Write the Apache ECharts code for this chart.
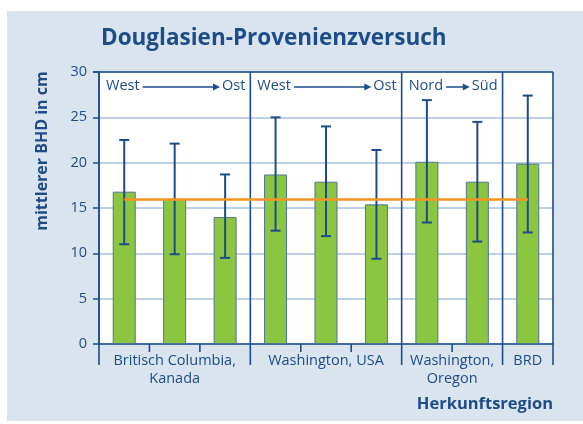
<!DOCTYPE html>
<html>
<head>
<meta charset="utf-8">
<script src="https://cdn.jsdelivr.net/npm/echarts@6/dist/echarts.min.js"></script>
<style>
  html, body { margin: 0; padding: 0; background: #fff; }
  #chart { width: 583px; height: 424px; }
</style>
</head>
<body>
<div id="chart"></div>
<script>
// provenances (not labelled in the figure)
const categories = ['BC 1', 'BC 2', 'BC 3', 'WA 1', 'WA 2', 'WA 3', 'WO 1', 'WO 2', 'BRD'];
const meanBHD = [16.8, 16.0, 14.0, 18.7, 17.9, 15.4, 20.1, 17.9, 19.9];
const lowBHD = [11.0, 9.9, 9.5, 12.5, 11.9, 9.4, 13.4, 11.3, 12.3];
const highBHD = [22.5, 22.1, 18.7, 25.0, 24.0, 21.4, 26.9, 24.5, 27.4];
const overallMean = 16;

const yMin = 0, yMax = 30, yStep = 5;

const groupNames = ['Britisch Columbia,\nKanada', 'Washington, USA', 'Washington,\nOregon', 'BRD'];
const groupStart = [0, 3, 6, 8];
const groupEnd = [3, 6, 8, 9];
const dirFrom = ['West', 'West', 'Nord', ''];
const dirTo = ['Ost', 'Ost', 'Süd', ''];

const FONT = '"Open Sans", "Noto Sans", sans-serif';
const DARK = '#1d4c8a';
const GRID = '#a8c2de';

const ctx = document.createElement('canvas').getContext('2d');
function textW(s, size) {
  ctx.font = size + 'px ' + '"Open Sans"';
  return ctx.measureText(s).width;
}

function boundaryX(api, b) {
  const w = api.size([1, 0])[0];
  const n = categories.length;
  if (b < n) return api.coord([b, 0])[0] - w / 2;
  return api.coord([n - 1, 0])[0] + w / 2;
}

const boundaries = [];
for (let b = 0; b <= categories.length; b++) boundaries.push([b, 0]);
const groupEdges = groupStart.concat([groupEnd[groupEnd.length - 1]]);

const chart = echarts.init(document.getElementById('chart'));

chart.setOption({
  animation: false,
  textStyle: { fontFamily: FONT },
  graphic: [
    {
      type: 'rect', z: -10,
      shape: { x: 7, y: 11, width: 576, height: 410 },
      style: { fill: '#d9e4ee' }
    },
    {
      type: 'text', right: 30, top: 396,
      style: { text: 'Herkunftsregion', fill: DARK, font: 'bold 16.5px ' + FONT }
    },
    {
      type: 'text', x: 42, y: 151, rotation: Math.PI / 2,
      style: {
        text: 'mittlerer BHD in cm', fill: DARK, font: 'bold 16px ' + FONT,
        align: 'center', verticalAlign: 'middle'
      }
    }
  ],
  title: {
    text: 'Douglasien-Provenienzversuch',
    left: 96, top: 22,
    textStyle: { color: DARK, fontSize: 22.5, fontWeight: 'bold', fontFamily: FONT }
  },
  grid: {
    left: 99, right: 30, top: 72, bottom: 80,
    show: true, backgroundColor: '#fff', borderWidth: 0
  },
  xAxis: {
    type: 'category',
    data: categories,
    axisLine: { show: true, lineStyle: { color: DARK, width: 1.5 } },
    axisTick: { show: false },
    axisLabel: { show: false },
    splitLine: { show: false }
  },
  yAxis: {
    type: 'value',
    min: yMin, max: yMax, interval: yStep,
    axisLine: { show: true, lineStyle: { color: DARK, width: 1.5 } },
    axisTick: { show: true, length: 6, lineStyle: { color: DARK, width: 1.5 } },
    axisLabel: { color: DARK, fontSize: 14.5, margin: 12, fontFamily: FONT },
    splitLine: { show: true, lineStyle: { color: GRID, width: 1.5 } }
  },
  series: [
    {
      type: 'bar',
      data: meanBHD,
      barWidth: 23,
      z: 2,
      itemStyle: { color: '#8cc540', borderColor: '#4f7596', borderWidth: 1 },
      markLine: {
        silent: true,
        symbol: 'none',
        label: { show: false },
        lineStyle: { color: '#f39422', width: 2.5, type: 'solid' },
        data: [[
          { coord: [categories[0], overallMean] },
          { coord: [categories[categories.length - 1], overallMean] }
        ]],
        z: 6
      }
    },
    {
      // error bars
      type: 'custom',
      z: 4,
      data: categories.map((c, i) => [i, lowBHD[i], highBHD[i]]),
      encode: { x: 0, y: [1, 2] },
      renderItem: function (params, api) {
        const lo = api.coord([api.value(0), api.value(1)]);
        const hi = api.coord([api.value(0), api.value(2)]);
        const cap = 5;
        const style = { stroke: DARK, lineWidth: 2 };
        return {
          type: 'group',
          children: [
            { type: 'line', shape: { x1: lo[0], y1: lo[1], x2: hi[0], y2: hi[1] }, style: style },
            { type: 'line', shape: { x1: lo[0] - cap, y1: lo[1], x2: lo[0] + cap, y2: lo[1] }, style: style },
            { type: 'line', shape: { x1: hi[0] - cap, y1: hi[1], x2: hi[0] + cap, y2: hi[1] }, style: style }
          ]
        };
      }
    },
    {
      // separators, ticks and frame
      type: 'custom',
      z: 5,
      silent: true,
      data: boundaries,
      encode: { x: 0, y: 1 },
      renderItem: function (params, api) {
        const b = api.value(0);
        const x = boundaryX(api, b);
        const yTop = api.coord([0, yMax])[1];
        const yBot = api.coord([0, yMin])[1];
        const isGroup = groupEdges.indexOf(b) >= 0;
        const style = { stroke: DARK, lineWidth: 1.6 };
        const children = [];
        if (isGroup) {
          children.push({ type: 'line', shape: { x1: x, y1: yTop, x2: x, y2: yBot + 21 }, style: style });
        } else {
          children.push({ type: 'line', shape: { x1: x, y1: yBot, x2: x, y2: yBot + 8 }, style: style });
        }
        if (b === 0) {
          const xr = boundaryX(api, categories.length);
          children.push({ type: 'line', shape: { x1: x - 6, y1: yTop, x2: xr, y2: yTop }, style: style });
        }
        return { type: 'group', children: children };
      }
    },
    {
      // direction notes and region labels
      type: 'custom',
      z: 5,
      silent: true,
      data: groupNames.map((g, i) => [i, 0]),
      encode: { x: 0, y: 1 },
      renderItem: function (params, api) {
        const gi = params.dataIndex;
        const x0 = boundaryX(api, groupStart[gi]);
        const x1 = boundaryX(api, groupEnd[gi]);
        const yTop = api.coord([0, yMax])[1];
        const yBot = api.coord([0, yMin])[1];
        const children = [];
        const fs = 14.5;
        children.push({
          type: 'text',
          style: {
            text: groupNames[gi], x: (x0 + x1) / 2, y: yBot + 8,
            align: 'center', verticalAlign: 'top',
            fill: DARK, font: fs + 'px ' + FONT, lineHeight: 18
          }
        });
        if (dirFrom[gi]) {
          const ty = yTop + 14;
          const la = x0 + 7;
          const rb = x1 - 5;
          const lw = textW(dirFrom[gi], fs);
          const rw = textW(dirTo[gi], fs);
          const ax0 = la + lw + 3;
          const ax1 = rb - rw - 2;
          children.push({
            type: 'text',
            style: { text: dirFrom[gi], x: la, y: ty, align: 'left', verticalAlign: 'middle', fill: DARK, font: fs + 'px ' + FONT }
          });
          children.push({
            type: 'text',
            style: { text: dirTo[gi], x: rb, y: ty, align: 'right', verticalAlign: 'middle', fill: DARK, font: fs + 'px ' + FONT }
          });
          children.push({
            type: 'line',
            shape: { x1: ax0, y1: ty + 1, x2: ax1 - 5, y2: ty + 1 },
            style: { stroke: DARK, lineWidth: 1.5 }
          });
          children.push({
            type: 'polygon',
            shape: { points: [[ax1 - 7, ty - 2.5], [ax1, ty + 1], [ax1 - 7, ty + 4.5]] },
            style: { fill: DARK }
          });
        }
        return { type: 'group', children: children };
      }
    }
  ]
});
</script>
</body>
</html>
